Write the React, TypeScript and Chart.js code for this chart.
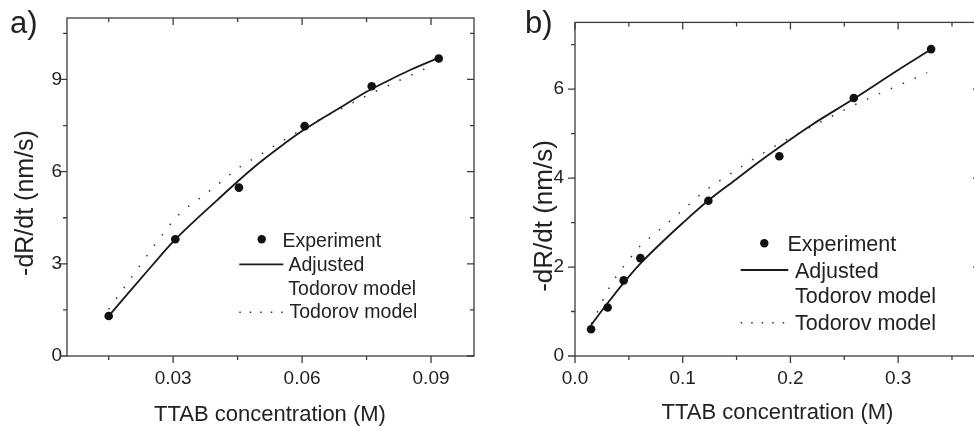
import React, { useEffect, useRef } from "react";
import { Chart, registerables } from "chart.js";
Chart.register(...registerables);

// ---------- Panel a data ----------
const expA_x = [0.015, 0.0305, 0.0453, 0.0606, 0.0762, 0.0918];
const expA_y = [1.3, 3.8, 5.48, 7.48, 8.78, 9.68];
const adjA_x = [0.015, 0.02, 0.025, 0.03, 0.035, 0.04, 0.045, 0.05, 0.055, 0.06, 0.065, 0.07, 0.075, 0.08, 0.085, 0.092];
const adjA_y = [1.3, 2.12, 2.93, 3.72, 4.4, 5.04, 5.68, 6.28, 6.82, 7.32, 7.76, 8.18, 8.6, 8.96, 9.3, 9.72];
const todA_x = [0.015, 0.02, 0.025, 0.0275, 0.03, 0.0325, 0.035, 0.04, 0.045, 0.05, 0.055, 0.06, 0.065, 0.07, 0.075, 0.08, 0.085, 0.09];
const todA_y = [1.52, 2.5, 3.48, 3.95, 4.4, 4.75, 5.01, 5.54, 6.1, 6.53, 6.96, 7.38, 7.76, 8.11, 8.47, 8.8, 9.12, 9.44];
const xTicksA = [0.03, 0.06, 0.09];
const xMinorA = [0.015, 0.045, 0.075];
const yTicksA = [0, 3, 6, 9];
const yMinorA = [1.5, 4.5, 7.5, 10.5];

// ---------- Panel b data ----------
const expB_x = [0.0149, 0.0303, 0.0452, 0.0607, 0.1238, 0.1897, 0.2588, 0.3306];
const expB_y = [0.6, 1.09, 1.7, 2.2, 3.49, 4.49, 5.8, 6.9];
const adjB_x = [0.015, 0.03, 0.045, 0.06, 0.08, 0.1, 0.124, 0.15, 0.17, 0.19, 0.22, 0.26, 0.3, 0.331];
const adjB_y = [0.7, 1.18, 1.64, 2.06, 2.54, 2.99, 3.5, 3.98, 4.35, 4.7, 5.2, 5.8, 6.43, 6.9];
const todB_x = [0.015, 0.02, 0.03, 0.04, 0.05, 0.06, 0.07, 0.08, 0.1, 0.12, 0.14, 0.16, 0.18, 0.2, 0.22, 0.24, 0.26, 0.28, 0.3, 0.327];
const todB_y = [0.72, 0.95, 1.46, 1.85, 2.16, 2.46, 2.67, 2.87, 3.28, 3.7, 4.03, 4.34, 4.64, 4.91, 5.16, 5.41, 5.65, 5.87, 6.08, 6.37];
const xTicksB = [0, 0.1, 0.2, 0.3];
const xMinorB = [0.05, 0.15, 0.25, 0.35];
const yTicksB = [0, 2, 4, 6];
const yMinorB = [1, 3, 5, 7];

const legendLabels = ["Experiment", "Adjusted", "Todorov model", "Todorov model"];
const xTitle = "TTAB concentration (M)";
const yTitle = "-dR/dt (nm/s)";

const FONT = "'Liberation Sans', Arial, Helvetica, sans-serif";
const TEXT = "#222";
const AXIS = "#3c3c3c";
const LINE = "#1a1a1a";

const pts = (xs: number[], ys: number[]) => xs.map((x, i) => ({ x, y: ys[i] }));

type Panel = {
  label: string;
  canvasLeft: number;
  canvasWidth: number;
  area: { left: number; right: number; top: number; bottom: number };
  xMin: number; xMax: number; yMin: number; yMax: number;
  xTicks: number[]; xMinor: number[]; yTicks: number[]; yMinor: number[];
  xDec: number;
  yPad: number;
  exp: { x: number; y: number }[];
  adj: { x: number; y: number }[];
  tod: { x: number; y: number }[];
  tickFont: number;
  legendFont: number;
  yTitleFont: number;
  xTitleFont: number;
  labelPos: [number, number];
  xTitlePos: [number, number];
  yTitlePos: [number, number];
  legend: {
    dot: [number, number];
    line: [number, number, number];
    dotted: [number, number, number];
    texts: [number, number][];
  };
};

function makeChart(canvas: HTMLCanvasElement, p: Panel) {
  const W = p.canvasWidth;
  const H = 426;
  const decor = {
    id: "decor",
    afterDatasetsDraw(chart: any) {
      const ctx = chart.ctx as CanvasRenderingContext2D;
      const { left, right, top, bottom } = chart.chartArea;
      const xs = chart.scales.x;
      const ys = chart.scales.y;
      ctx.save();
      ctx.strokeStyle = AXIS;
      ctx.lineWidth = 1.3;
      ctx.strokeRect(left, top, right - left, bottom - top);
      const drawX = (v: number, len: number) => {
        const px = xs.getPixelForValue(v);
        ctx.beginPath();
        ctx.moveTo(px, bottom);
        ctx.lineTo(px, bottom + len);
        ctx.moveTo(px, top);
        ctx.lineTo(px, top + len);
        ctx.stroke();
      };
      const drawY = (v: number, len: number) => {
        const py = ys.getPixelForValue(v);
        ctx.beginPath();
        ctx.moveTo(left, py);
        ctx.lineTo(left - len, py);
        ctx.moveTo(right, py);
        ctx.lineTo(right - len, py);
        ctx.stroke();
      };
      p.xTicks.forEach((v) => drawX(v, 7));
      p.xMinor.forEach((v) => drawX(v, 4));
      p.yTicks.forEach((v) => drawY(v, 7));
      p.yMinor.forEach((v) => drawY(v, 4));

      // legend
      const lg = p.legend;
      ctx.fillStyle = "#111";
      ctx.beginPath();
      ctx.arc(lg.dot[0], lg.dot[1], 4.2, 0, Math.PI * 2);
      ctx.fill();
      ctx.strokeStyle = LINE;
      ctx.lineWidth = 1.8;
      ctx.beginPath();
      ctx.moveTo(lg.line[0], lg.line[2]);
      ctx.lineTo(lg.line[1], lg.line[2]);
      ctx.stroke();
      ctx.setLineDash([1.5, 9]);
      ctx.lineWidth = 1.5;
      ctx.strokeStyle = "#333";
      ctx.beginPath();
      ctx.moveTo(lg.dotted[0], lg.dotted[2]);
      ctx.lineTo(lg.dotted[1], lg.dotted[2]);
      ctx.stroke();
      ctx.setLineDash([]);
      ctx.fillStyle = TEXT;
      ctx.font = `${p.legendFont}px ${FONT}`;
      ctx.textAlign = "left";
      ctx.textBaseline = "alphabetic";
      legendLabels.forEach((t, i) => {
        ctx.fillText(t, lg.texts[i][0], lg.texts[i][1]);
      });

      // panel label
      ctx.font = `31px ${FONT}`;
      ctx.fillText(p.label, p.labelPos[0], p.labelPos[1]);

      // axis titles
      ctx.font = `${p.xTitleFont}px ${FONT}`;
      ctx.textAlign = "center";
      ctx.fillText(xTitle, p.xTitlePos[0], p.xTitlePos[1]);
      ctx.save();
      ctx.translate(p.yTitlePos[0], p.yTitlePos[1]);
      ctx.rotate(-Math.PI / 2);
      ctx.font = `${p.yTitleFont}px ${FONT}`;
      ctx.fillText(yTitle, 0, 0);
      ctx.restore();
      ctx.restore();
    },
  };

  return new Chart(canvas, {
    type: "scatter",
    data: {
      datasets: [
        {
          label: "Experiment",
          data: p.exp,
          showLine: false,
          pointRadius: 4.3,
          pointBackgroundColor: "#111",
          pointBorderColor: "#111",
          pointBorderWidth: 0,
          order: 0,
        },
        {
          label: "Adjusted Todorov model",
          data: p.adj,
          showLine: true,
          pointRadius: 0,
          borderColor: LINE,
          borderWidth: 1.8,
          cubicInterpolationMode: "monotone",
          order: 1,
        },
        {
          label: "Todorov model",
          data: p.tod,
          showLine: true,
          pointRadius: 0,
          borderColor: "#333",
          borderWidth: 1.5,
          borderDash: [1.5, 11.5],
          cubicInterpolationMode: "monotone",
          order: 2,
        },
      ],
    },
    options: {
      animation: false,
      responsive: false,
      devicePixelRatio: 1,
      layout: {
        padding: { left: 0, right: W - p.area.right, top: p.area.top, bottom: 0 },
      },
      plugins: { legend: { display: false }, tooltip: { enabled: false } },
      scales: {
        x: {
          type: "linear",
          min: p.xMin,
          max: p.xMax,
          grid: { display: false, drawTicks: false },
          border: { display: false },
          afterBuildTicks: (s: any) => {
            s.ticks = p.xTicks.map((v) => ({ value: v }));
          },
          afterFit: (s: any) => {
            s.height = H - p.area.bottom;
          },
          ticks: {
            autoSkip: false,
            maxRotation: 0,
            padding: 11,
            color: TEXT,
            font: { family: FONT, size: p.tickFont },
            callback: (v: any) => Number(v).toFixed(p.xDec),
          },
        },
        y: {
          type: "linear",
          min: p.yMin,
          max: p.yMax,
          grid: { display: false, drawTicks: false },
          border: { display: false },
          afterBuildTicks: (s: any) => {
            s.ticks = p.yTicks.map((v) => ({ value: v }));
          },
          afterFit: (s: any) => {
            s.width = p.area.left;
          },
          ticks: {
            autoSkip: false,
            padding: p.yPad,
            color: TEXT,
            font: { family: FONT, size: p.tickFont },
            callback: (v: any) => String(v),
          },
        },
      },
    },
    plugins: [decor],
  } as any);
}

const panelA: Panel = {
  label: "a)",
  canvasLeft: 0,
  canvasWidth: 487,
  area: { left: 67, right: 474, top: 18, bottom: 356 },
  xMin: 0.0053, xMax: 0.1, yMin: 0, yMax: 11,
  xTicks: xTicksA, xMinor: xMinorA, yTicks: yTicksA, yMinor: yMinorA,
  xDec: 2,
  yPad: 5,
  exp: pts(expA_x, expA_y),
  adj: pts(adjA_x, adjA_y),
  tod: pts(todA_x, todA_y),
  tickFont: 19,
  legendFont: 19.5,
  yTitleFont: 25,
  xTitleFont: 22,
  labelPos: [10, 33],
  xTitlePos: [270, 421],
  yTitlePos: [32.5, 203],
  legend: {
    dot: [261.7, 239.3],
    line: [239.3, 283.3, 264.3],
    dotted: [239.3, 283.3, 312.3],
    texts: [[282.5, 246.7], [288.5, 270.7], [288.3, 295], [289.5, 318.3]],
  },
};

const BL = 487;
const panelB: Panel = {
  label: "b)",
  canvasLeft: BL,
  canvasWidth: 503,
  area: { left: 575 - BL, right: 980 - BL, top: 19, bottom: 356 },
  xMin: 0, xMax: 0.376, yMin: 0, yMax: 7.5,
  xTicks: xTicksB, xMinor: xMinorB, yTicks: yTicksB, yMinor: yMinorB,
  xDec: 1,
  yPad: 11,
  exp: pts(expB_x, expB_y),
  adj: pts(adjB_x, adjB_y),
  tod: pts(todB_x, todB_y),
  tickFont: 19,
  legendFont: 21.5,
  yTitleFont: 26,
  xTitleFont: 22,
  labelPos: [525 - BL, 33],
  xTitlePos: [777.5 - BL, 418.5],
  yTitlePos: [552 - BL, 216],
  legend: {
    dot: [764.3 - BL, 243.3],
    line: [740.7 - BL, 788.3 - BL, 270],
    dotted: [740.7 - BL, 788.3 - BL, 322.7],
    texts: [[787.5 - BL, 250.7], [795 - BL, 277.7], [795 - BL, 303.3], [795 - BL, 330]],
  },
};

function PanelCanvas({ p }: { p: Panel }) {
  const ref = useRef<HTMLCanvasElement | null>(null);
  useEffect(() => {
    if (!ref.current) return;
    const c = makeChart(ref.current, p);
    return () => c.destroy();
  }, [p]);
  return (
    <canvas
      ref={ref}
      width={p.canvasWidth}
      height={426}
      style={{ position: "absolute", left: p.canvasLeft, top: 0, width: p.canvasWidth, height: 426 }}
    />
  );
}

export default function App() {
  return (
    <div
      style={{
        position: "fixed",
        left: 0,
        top: 0,
        width: 974,
        height: 426,
        overflow: "hidden",
        background: "#fff",
      }}
    >
      <PanelCanvas p={panelA} />
      <PanelCanvas p={panelB} />
    </div>
  );
}
